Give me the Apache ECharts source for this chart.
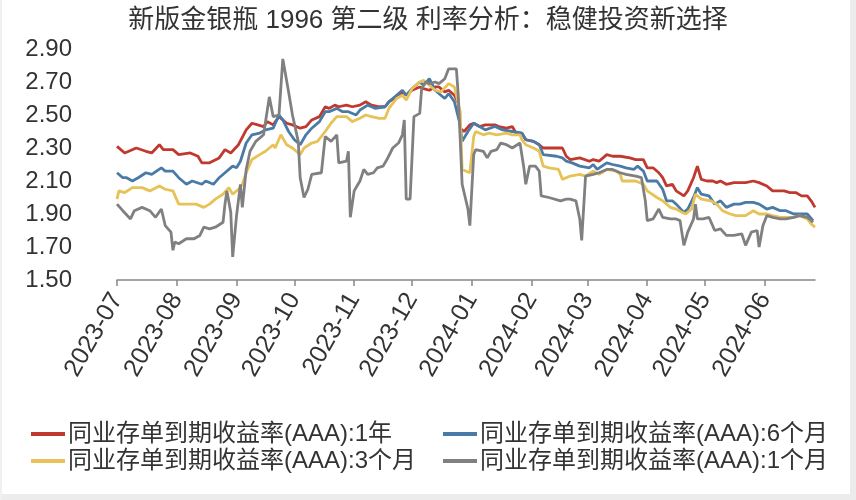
<!DOCTYPE html>
<html>
<head>
<meta charset="utf-8">
<script src="https://cdn.jsdelivr.net/npm/echarts@6/dist/echarts.min.js"></script>
<style>html,body{margin:0;padding:0;background:#fff;}#c{width:856px;height:500px;}</style>
</head>
<body>
<div id="c"></div>
<script>
const title = '新版金银瓶 1996 第二级 利率分析：稳健投资新选择';
const seriesNames = ['同业存单到期收益率(AAA):1年','同业存单到期收益率(AAA):6个月','同业存单到期收益率(AAA):3个月','同业存单到期收益率(AAA):1个月'];
const yTicks = [1.50, 1.70, 1.90, 2.10, 2.30, 2.50, 2.70, 2.90];

const dates1Y = ['2023-07-01','2023-07-05','2023-07-11','2023-07-16','2023-07-19','2023-07-23','2023-07-25','2023-07-30','2023-08-02','2023-08-08','2023-08-12','2023-08-14','2023-08-18','2023-08-23','2023-08-26','2023-08-29','2023-09-02','2023-09-06','2023-09-09','2023-09-12','2023-09-15','2023-09-17','2023-09-20','2023-09-23','2023-09-27','2023-09-30','2023-10-04','2023-10-07','2023-10-10','2023-10-14','2023-10-17','2023-10-19','2023-10-22','2023-10-24','2023-10-28','2023-10-31','2023-11-04','2023-11-07','2023-11-10','2023-11-14','2023-11-17','2023-11-19','2023-11-23','2023-11-26','2023-11-28','2023-12-01','2023-12-05','2023-12-07','2023-12-10','2023-12-13','2023-12-15','2023-12-18','2023-12-20','2023-12-23','2023-12-25','2023-12-26','2023-12-28','2023-12-31','2024-01-02','2024-01-05','2024-01-08','2024-01-13','2024-01-15','2024-01-19','2024-01-22','2024-01-24','2024-01-27','2024-01-29','2024-02-02','2024-02-05','2024-02-07','2024-02-17','2024-02-19','2024-02-21','2024-02-26','2024-03-02','2024-03-04','2024-03-07','2024-03-11','2024-03-14','2024-03-18','2024-03-23','2024-03-26','2024-03-30','2024-04-01','2024-04-04','2024-04-07','2024-04-09','2024-04-11','2024-04-14','2024-04-16','2024-04-20','2024-04-22','2024-04-25','2024-04-27','2024-04-29','2024-05-02','2024-05-05','2024-05-07','2024-05-09','2024-05-12','2024-05-16','2024-05-19','2024-05-22','2024-05-26','2024-05-29','2024-06-02','2024-06-05','2024-06-11','2024-06-14','2024-06-17','2024-06-20','2024-06-23','2024-06-25','2024-06-27'];
const rate1Y = [2.31,2.27,2.30,2.28,2.27,2.32,2.29,2.29,2.26,2.27,2.25,2.21,2.21,2.24,2.29,2.27,2.32,2.41,2.45,2.44,2.43,2.46,2.44,2.49,2.45,2.44,2.42,2.43,2.47,2.49,2.55,2.54,2.56,2.55,2.56,2.55,2.56,2.58,2.56,2.55,2.55,2.58,2.61,2.64,2.62,2.65,2.67,2.66,2.65,2.67,2.67,2.64,2.65,2.62,2.57,2.42,2.40,2.44,2.45,2.43,2.44,2.44,2.43,2.42,2.43,2.39,2.39,2.35,2.34,2.32,2.30,2.30,2.25,2.23,2.24,2.22,2.23,2.22,2.26,2.25,2.25,2.24,2.23,2.23,2.18,2.18,2.15,2.12,2.07,2.08,2.04,2.01,2.04,2.12,2.19,2.11,2.10,2.10,2.09,2.10,2.08,2.09,2.09,2.09,2.10,2.09,2.07,2.04,2.04,2.03,2.03,2.01,2.01,1.98,1.94];

const dates6M = ['2023-07-01','2023-07-04','2023-07-06','2023-07-09','2023-07-12','2023-07-16','2023-07-19','2023-07-24','2023-07-26','2023-07-30','2023-08-02','2023-08-06','2023-08-09','2023-08-14','2023-08-16','2023-08-20','2023-08-23','2023-08-26','2023-08-30','2023-09-01','2023-09-03','2023-09-06','2023-09-09','2023-09-13','2023-09-16','2023-09-20','2023-09-23','2023-09-25','2023-09-28','2023-10-01','2023-10-04','2023-10-07','2023-10-10','2023-10-14','2023-10-17','2023-10-19','2023-10-23','2023-10-26','2023-10-29','2023-11-02','2023-11-04','2023-11-08','2023-11-10','2023-11-12','2023-11-17','2023-11-19','2023-11-23','2023-11-26','2023-11-28','2023-12-01','2023-12-05','2023-12-07','2023-12-10','2023-12-13','2023-12-16','2023-12-18','2023-12-20','2023-12-23','2023-12-26','2023-12-27','2023-12-30','2024-01-02','2024-01-05','2024-01-08','2024-01-13','2024-01-17','2024-01-22','2024-01-27','2024-01-29','2024-02-02','2024-02-05','2024-02-07','2024-02-14','2024-02-17','2024-02-19','2024-02-22','2024-02-26','2024-03-02','2024-03-04','2024-03-06','2024-03-11','2024-03-14','2024-03-18','2024-03-21','2024-03-25','2024-03-27','2024-03-30','2024-04-01','2024-04-06','2024-04-09','2024-04-11','2024-04-14','2024-04-16','2024-04-20','2024-04-22','2024-04-25','2024-04-27','2024-04-29','2024-05-03','2024-05-06','2024-05-09','2024-05-12','2024-05-16','2024-05-19','2024-05-22','2024-05-26','2024-05-29','2024-06-02','2024-06-05','2024-06-09','2024-06-12','2024-06-16','2024-06-19','2024-06-23','2024-06-24','2024-06-26'];
const rate6M = [2.15,2.12,2.12,2.10,2.12,2.15,2.14,2.18,2.16,2.16,2.12,2.08,2.10,2.08,2.10,2.08,2.12,2.15,2.19,2.18,2.22,2.33,2.38,2.39,2.41,2.42,2.50,2.47,2.40,2.35,2.32,2.38,2.42,2.46,2.52,2.52,2.54,2.52,2.52,2.50,2.53,2.56,2.55,2.54,2.55,2.58,2.62,2.65,2.62,2.66,2.70,2.68,2.72,2.65,2.62,2.60,2.63,2.58,2.44,2.34,2.40,2.45,2.43,2.41,2.43,2.41,2.40,2.39,2.35,2.34,2.32,2.26,2.25,2.24,2.22,2.21,2.19,2.18,2.20,2.17,2.21,2.20,2.19,2.18,2.17,2.19,2.16,2.10,2.10,2.05,1.98,1.98,1.96,1.91,1.93,2.00,2.06,2.02,2.01,1.96,1.98,1.94,1.96,1.96,1.97,1.97,1.96,1.93,1.94,1.92,1.92,1.90,1.90,1.90,1.89,1.86];

const dates3M = ['2023-07-01','2023-07-02','2023-07-05','2023-07-09','2023-07-14','2023-07-18','2023-07-23','2023-07-26','2023-07-30','2023-08-02','2023-08-07','2023-08-11','2023-08-15','2023-08-18','2023-08-21','2023-08-25','2023-08-28','2023-08-30','2023-09-02','2023-09-04','2023-09-06','2023-09-09','2023-09-13','2023-09-16','2023-09-20','2023-09-21','2023-09-24','2023-09-27','2023-09-30','2023-10-04','2023-10-06','2023-10-10','2023-10-13','2023-10-17','2023-10-20','2023-10-23','2023-10-28','2023-10-31','2023-11-04','2023-11-07','2023-11-10','2023-11-14','2023-11-17','2023-11-19','2023-11-23','2023-11-26','2023-11-28','2023-12-01','2023-12-05','2023-12-07','2023-12-10','2023-12-13','2023-12-16','2023-12-20','2023-12-23','2023-12-26','2023-12-27','2023-12-31','2024-01-02','2024-01-03','2024-01-07','2024-01-10','2024-01-14','2024-01-19','2024-01-22','2024-01-26','2024-01-27','2024-01-29','2024-02-02','2024-02-05','2024-02-07','2024-02-10','2024-02-15','2024-02-16','2024-02-17','2024-02-21','2024-02-26','2024-02-29','2024-03-04','2024-03-07','2024-03-11','2024-03-16','2024-03-18','2024-03-19','2024-03-26','2024-03-30','2024-04-01','2024-04-06','2024-04-09','2024-04-13','2024-04-16','2024-04-19','2024-04-21','2024-04-24','2024-04-26','2024-04-29','2024-05-04','2024-05-07','2024-05-10','2024-05-14','2024-05-17','2024-05-22','2024-05-26','2024-05-29','2024-06-02','2024-06-05','2024-06-09','2024-06-16','2024-06-19','2024-06-23','2024-06-25','2024-06-27'];
const rate3M = [1.99,2.04,2.03,2.06,2.06,2.04,2.07,2.05,2.04,1.96,1.96,1.96,1.94,1.96,1.99,2.02,2.06,2.02,2.05,2.08,2.15,2.23,2.26,2.28,2.32,2.30,2.38,2.32,2.30,2.26,2.30,2.33,2.34,2.40,2.45,2.49,2.49,2.46,2.48,2.50,2.49,2.48,2.48,2.54,2.60,2.62,2.59,2.66,2.70,2.71,2.68,2.65,2.64,2.69,2.67,2.52,2.17,2.15,2.37,2.40,2.38,2.39,2.38,2.39,2.38,2.38,2.35,2.32,2.30,2.28,2.19,2.18,2.17,2.16,2.11,2.13,2.14,2.13,2.16,2.14,2.17,2.16,2.14,2.10,2.10,2.08,2.04,2.00,1.98,1.94,1.93,1.91,1.90,1.93,2.02,1.99,1.98,1.96,1.92,1.90,1.89,1.89,1.92,1.90,1.90,1.89,1.88,1.88,1.89,1.87,1.84,1.82];

const dates1M = ['2023-07-01','2023-07-04','2023-07-08','2023-07-10','2023-07-14','2023-07-18','2023-07-21','2023-07-24','2023-07-26','2023-07-29','2023-07-30','2023-07-31','2023-08-02','2023-08-06','2023-08-10','2023-08-13','2023-08-15','2023-08-18','2023-08-21','2023-08-25','2023-08-26','2023-08-27','2023-08-29','2023-08-30','2023-08-31','2023-09-01','2023-09-03','2023-09-04','2023-09-06','2023-09-08','2023-09-11','2023-09-15','2023-09-18','2023-09-20','2023-09-21','2023-09-23','2023-09-25','2023-09-28','2023-09-30','2023-10-03','2023-10-04','2023-10-06','2023-10-08','2023-10-10','2023-10-15','2023-10-17','2023-10-20','2023-10-23','2023-10-24','2023-10-28','2023-10-29','2023-10-30','2023-11-01','2023-11-04','2023-11-06','2023-11-08','2023-11-11','2023-11-13','2023-11-16','2023-11-18','2023-11-21','2023-11-24','2023-11-26','2023-11-27','2023-11-28','2023-11-30','2023-12-02','2023-12-05','2023-12-06','2023-12-08','2023-12-10','2023-12-13','2023-12-15','2023-12-18','2023-12-20','2023-12-24','2023-12-25','2023-12-27','2023-12-30','2023-12-31','2024-01-02','2024-01-03','2024-01-07','2024-01-09','2024-01-11','2024-01-14','2024-01-16','2024-01-19','2024-01-22','2024-01-26','2024-01-27','2024-01-28','2024-01-29','2024-01-31','2024-02-03','2024-02-05','2024-02-06','2024-02-10','2024-02-16','2024-02-17','2024-02-19','2024-02-21','2024-02-24','2024-02-26','2024-02-27','2024-02-29','2024-03-01','2024-03-04','2024-03-07','2024-03-11','2024-03-14','2024-03-18','2024-03-21','2024-03-26','2024-03-29','2024-03-31','2024-04-01','2024-04-04','2024-04-07','2024-04-09','2024-04-13','2024-04-16','2024-04-18','2024-04-20','2024-04-22','2024-04-25','2024-04-26','2024-04-27','2024-04-30','2024-05-03','2024-05-06','2024-05-09','2024-05-12','2024-05-16','2024-05-17','2024-05-20','2024-05-22','2024-05-25','2024-05-28','2024-05-29','2024-05-31','2024-06-02','2024-06-05','2024-06-09','2024-06-12','2024-06-16','2024-06-19','2024-06-23','2024-06-24','2024-06-26'];
const rate1M = [1.96,1.92,1.87,1.92,1.94,1.92,1.88,1.93,1.83,1.79,1.68,1.73,1.72,1.75,1.75,1.77,1.82,1.81,1.82,1.85,1.96,2.04,1.91,1.64,1.64,1.89,2.08,1.94,2.17,2.28,2.34,2.38,2.61,2.49,2.48,2.50,2.84,2.64,2.50,2.34,2.12,2.00,2.05,2.14,2.15,2.37,2.34,2.38,2.21,2.22,2.28,1.88,2.04,2.10,2.17,2.14,2.15,2.18,2.19,2.23,2.30,2.33,2.38,2.47,1.99,1.99,2.49,2.51,2.66,2.70,2.69,2.70,2.69,2.72,2.78,2.78,2.62,2.08,1.93,1.83,2.26,2.29,2.28,2.24,2.28,2.29,2.33,2.32,2.30,2.33,2.34,2.18,2.08,2.19,2.19,2.16,2.01,2.00,1.98,1.97,1.99,1.99,1.98,1.87,1.74,2.13,2.13,2.14,2.15,2.17,2.17,2.15,2.14,2.13,2.12,1.98,1.86,1.87,1.93,1.88,1.87,1.87,1.86,1.71,1.79,1.87,1.96,1.87,1.87,1.88,1.80,1.81,1.77,1.77,1.76,1.78,1.71,1.79,1.80,1.70,1.83,1.89,1.88,1.87,1.87,1.88,1.89,1.88,1.87,1.85];

const colors = ['#c0392f', '#4a7aa6', '#e6c257', '#808080'];
const pair = (d, v) => d.map((x, i) => [x, v[i]]);
const seriesData = [pair(dates1Y, rate1Y), pair(dates6M, rate6M), pair(dates3M, rate3M), pair(dates1M, rate1M)];

const FONT = '"Liberation Sans", "Noto Sans CJK SC", sans-serif';
const chart = echarts.init(document.getElementById('c'), null, {renderer: 'canvas'});
chart.setOption({
  backgroundColor: '#ffffff',
  animation: false,
  color: colors,
  title: {
    text: title, left: 'center', top: 3,
    textStyle: {fontSize: 26, fontWeight: 'normal', color: '#333', fontFamily: FONT}
  },
  grid: {left: 117, right: 41, top: 49, bottom: 220, containLabel: false},
  xAxis: {
    type: 'time',
    min: '2023-07-01',
    max: '2024-06-27',
    minInterval: 28 * 86400000,
    maxInterval: 31 * 86400000,
    axisLine: {show: true, lineStyle: {color: '#888', width: 1.5}},
    axisTick: {show: true, length: 6, lineStyle: {color: '#888', width: 1.5}},
    splitLine: {show: false},
    axisLabel: {
      rotate: 60, fontSize: 25, color: '#333', fontFamily: FONT, margin: 15,
      showMaxLabel: false,
      formatter: function (val) {
        const d = new Date(val);
        const m = d.getMonth() + 1;
        return d.getFullYear() + '-' + (m < 10 ? '0' + m : m);
      }
    }
  },
  yAxis: {
    type: 'value', min: yTicks[0], max: yTicks[yTicks.length - 1], interval: 0.2,
    axisLine: {show: false}, axisTick: {show: false}, splitLine: {show: false},
    axisLabel: {fontSize: 24, color: '#333', fontFamily: FONT, margin: 45,
      formatter: v => v.toFixed(2)}
  },
  legend: [
    {
      data: [seriesNames[0], seriesNames[2]], orient: 'vertical', left: 26, top: 417,
      itemWidth: 34, itemHeight: 4, itemGap: 3, icon: 'rect',
      textStyle: {fontSize: 24, color: '#333', fontFamily: FONT, padding: [0,0,0,-2]}
    },
    {
      data: [seriesNames[1], seriesNames[3]], orient: 'vertical', left: 438, top: 417,
      itemWidth: 34, itemHeight: 4, itemGap: 3, icon: 'rect',
      textStyle: {fontSize: 24, color: '#333', fontFamily: FONT, padding: [0,0,0,-2]}
    }
  ],
  graphic: [
    {type: 'rect', shape: {x: 850, y: 0, width: 6, height: 500}, style: {fill: '#ececec'}, silent: true},
    {type: 'rect', shape: {x: 0, y: 494, width: 856, height: 6}, style: {fill: '#ececec'}, silent: true},
    {type: 'rect', shape: {x: 0, y: 0, width: 2, height: 500}, style: {fill: '#f0f0f0'}, silent: true}
  ],
  series: seriesNames.map((n, i) => ({
    name: n, type: 'line', data: seriesData[i], showSymbol: false, symbol: 'none',
    lineStyle: {width: 2.8, color: colors[i]}, itemStyle: {color: colors[i]}
  }))
});
</script>
</body>
</html>
